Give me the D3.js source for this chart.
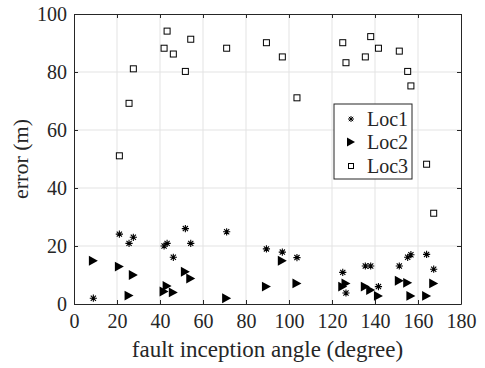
<!DOCTYPE html>
<html>
<head>
<meta charset="utf-8">
<script src="https://cdn.jsdelivr.net/npm/d3@7"></script>
<style>
  body { margin: 0; background: #fff; }
  text { font-family: "Liberation Serif", "Times New Roman", serif; fill: #262626; }
</style>
</head>
<body>
<div id="chart"></div>
<script>
// fault inception angles (degree)
const angles = [9, 21.1, 25.6, 27.6, 41.9, 43.3, 46.2, 51.8, 54.3, 71, 89.5, 96.9, 103.7,
    125, 126.5, 135.5, 138, 141.6, 151.3, 155.2, 156.7, 164, 167.3];

// location errors (m)
const loc1 = [2, 24.1, 20.9, 23, 20, 20.9, 16.1, 26, 20.9, 24.9, 19, 17.9, 16,
    10.9, 3.8, 13.1, 13.1, 6, 13.1, 16.1, 17, 17.1, 12];
const loc2 = [14.9, 12.9, 2.9, 10, 4.3, 6.2, 4, 11.1, 8.8, 2, 6, 14.9, 7.1,
    6, 7.1, 6, 4.8, 2.8, 8, 7.3, 2.8, 2.8, 7.1];
const loc3 = [null, 51.1, 69.2, 81.1, 88.2, 94.1, 86.2, 80.2, 91.3, 88.2, 90.1, 85.2, 71.1,
    90.1, 83.2, 85.2, 92.2, 88.2, 87.2, 80.2, 75.2, 48.2, 31.3];

const seriesNames = ["Loc1", "Loc2", "Loc3"];
const xTicks = [0, 20, 40, 60, 80, 100, 120, 140, 160, 180];
const yTicks = [0, 20, 40, 60, 80, 100];

// set the dimensions and margins of the graph
const margin = {top: 14, right: 24, bottom: 64, left: 74},
    width = 485 - margin.left - margin.right,
    height = 368 - margin.top - margin.bottom;

const x = d3.scaleLinear().domain([0, 180]).range([0, width]);
const y = d3.scaleLinear().domain([0, 100]).range([height, 0]);

const svg = d3.select("#chart").append("svg")
    .attr("width", 485)
    .attr("height", 368)
    .append("g")
    .attr("transform", "translate(" + margin.left + "," + margin.top + ")");

// grid lines
svg.append("g").selectAll("line").data(xTicks.slice(1, -1)).enter().append("line")
    .attr("x1", d => x(d)).attr("x2", d => x(d))
    .attr("y1", 0).attr("y2", height)
    .attr("stroke", "#e3e3e3").attr("stroke-width", 1);
svg.append("g").selectAll("line").data(yTicks.slice(1, -1)).enter().append("line")
    .attr("y1", d => y(d)).attr("y2", d => y(d))
    .attr("x1", 0).attr("x2", width)
    .attr("stroke", "#e3e3e3").attr("stroke-width", 1);

// axes (ticks pointing inward, box on)
const axisColor = "#262626";
const styleAxis = g => {
    g.attr("font-family", null);
    g.select(".domain").attr("stroke", axisColor);
    g.selectAll(".tick line").attr("stroke", axisColor);
    g.selectAll(".tick text").style("font-size", "20px")
        .style("font-family", "'Liberation Serif', serif").attr("fill", axisColor);
};

svg.append("g")
    .attr("transform", "translate(0," + height + ")")
    .call(d3.axisBottom(x).tickValues(xTicks).tickSizeInner(-4).tickSizeOuter(0).tickPadding(10))
    .call(styleAxis);
svg.append("g")
    .call(d3.axisLeft(y).tickValues(yTicks).tickSizeInner(-4).tickSizeOuter(0).tickPadding(7))
    .call(styleAxis);
svg.append("g")
    .call(d3.axisTop(x).tickValues(xTicks).tickSizeInner(-4).tickSizeOuter(0).tickFormat(""))
    .call(styleAxis);
svg.append("g")
    .attr("transform", "translate(" + width + ",0)")
    .call(d3.axisRight(y).tickValues(yTicks).tickSizeInner(-4).tickSizeOuter(0).tickFormat(""))
    .call(styleAxis);

// axis labels
svg.append("text")
    .attr("x", width / 2).attr("y", height + 53)
    .attr("text-anchor", "middle")
    .style("font-size", "23px")
    .text("fault inception angle (degree)");
svg.append("text")
    .attr("transform", "translate(" + (-46) + "," + (height / 2) + ") rotate(-90)")
    .attr("text-anchor", "middle")
    .style("font-size", "22px")
    .text("error (m)");

// marker shapes
const starPath = r => {
    const d = r * 0.72;
    return "M" + (-r) + ",0L" + r + ",0M0," + (-r) + "L0," + r +
        "M" + (-d) + "," + (-d) + "L" + d + "," + d + "M" + (-d) + "," + d + "L" + d + "," + (-d);
};
const triPath = s => "M" + (-s * 0.5) + "," + (-s * 0.55) + "L" + (s * 0.5) + ",0L" + (-s * 0.5) + "," + (s * 0.55) + "Z";

const addStars = (g, data) => {
    g.selectAll(".s1").data(data).enter().append("path")
        .attr("transform", d => "translate(" + x(d.a) + "," + y(d.v) + ")")
        .attr("d", starPath(3.6))
        .attr("fill", "none").attr("stroke", "#000").attr("stroke-width", 1.1);
};
const addTris = (g, data) => {
    g.selectAll(".s2").data(data).enter().append("path")
        .attr("transform", d => "translate(" + x(d.a) + "," + y(d.v) + ")")
        .attr("d", triPath(9))
        .attr("fill", "#000");
};
const addSquares = (g, data) => {
    g.selectAll(".s3").data(data).enter().append("rect")
        .attr("x", d => x(d.a) - 3).attr("y", d => y(d.v) - 3)
        .attr("width", 6).attr("height", 6)
        .attr("fill", "#fff").attr("stroke", "#000").attr("stroke-width", 1);
};

const toPoints = vals => angles.map((a, i) => ({a: a, v: vals[i]})).filter(d => d.v !== null);

const plot = svg.append("g");
addSquares(plot, toPoints(loc3));
addTris(plot, toPoints(loc2));
addStars(plot, toPoints(loc1));

// legend
const lx = 334 - margin.left, ly = 104 - margin.top;
const legend = svg.append("g").attr("transform", "translate(" + lx + "," + ly + ")");
legend.append("rect")
    .attr("width", 78).attr("height", 75)
    .attr("fill", "#fff").attr("stroke", axisColor).attr("stroke-width", 1);
const rowY = [15, 38, 62];
legend.append("path").attr("transform", "translate(17," + rowY[0] + ")")
    .attr("d", starPath(3)).attr("stroke", "#000").attr("fill", "none");
legend.append("path").attr("transform", "translate(17," + rowY[1] + ")")
    .attr("d", triPath(8)).attr("fill", "#000");
legend.append("rect").attr("x", 14.5).attr("y", rowY[2] - 2.5).attr("width", 5).attr("height", 5)
    .attr("fill", "#fff").attr("stroke", "#000");
seriesNames.forEach((n, i) => {
    legend.append("text")
        .attr("x", 33).attr("y", rowY[i] + 7)
        .style("font-size", "20px")
        .text(n);
});
</script>
</body>
</html>
